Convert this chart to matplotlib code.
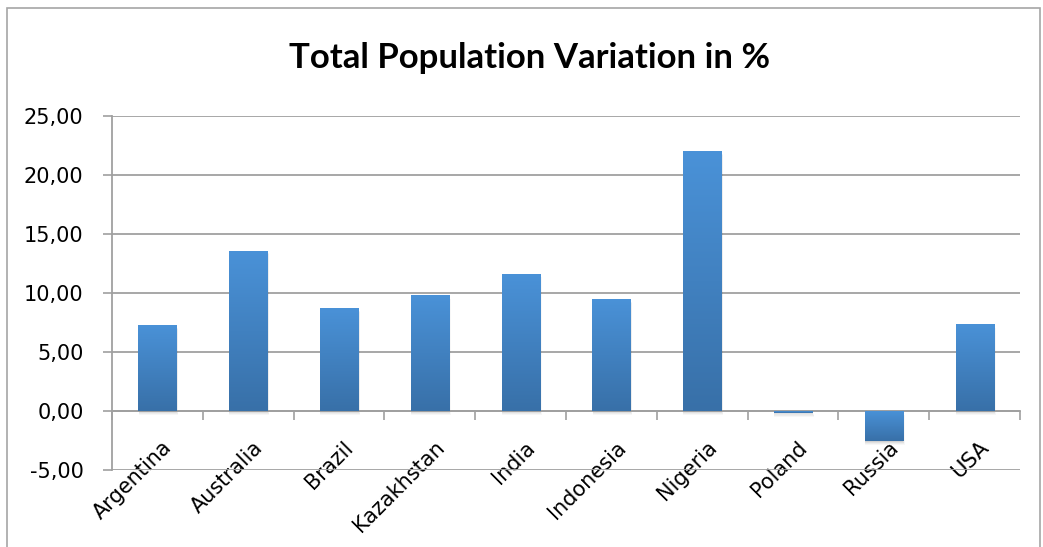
import matplotlib
matplotlib.use("Agg")
import matplotlib.pyplot as plt
import numpy as np
from matplotlib.colors import LinearSegmentedColormap
from matplotlib.patches import Rectangle
from matplotlib.ticker import FuncFormatter, FixedLocator
from matplotlib.transforms import ScaledTranslation

countries = ["Argentina", "Australia", "Brazil", "Kazakhstan", "India",
             "Indonesia", "Nigeria", "Poland", "Russia", "USA"]
variation = [7.30, 13.60, 8.75, 9.85, 11.65, 9.50, 22.00, -0.15, -2.58, 7.38]
y_ticks = [-5, 0, 5, 10, 15, 20, 25]

plt.rcParams["font.family"] = ["DejaVu Sans"]

W, H = 1043, 547
fig = plt.figure(figsize=(W / 100, H / 100), dpi=100)
fig.patch.set_facecolor("white")

# outer chart border
fig.patches.append(Rectangle((7 / W, -0.05), (1040 - 7) / W, (H - 8) / H + 0.05,
                             transform=fig.transFigure, fill=False,
                             edgecolor="#a6a6a6", linewidth=1.2))

left, right, top, bottom = 112, 1020, 116, 470
ax = fig.add_axes([left / W, 1 - bottom / H, (right - left) / W, (bottom - top) / H])

grid_col = "#a0a0a0"
bar_cmap = LinearSegmentedColormap.from_list("bar", ["#3870a8", "#4a92d8"])
width = 0.42
x = np.arange(len(countries))

for xi, v in zip(x, variation):
    lo, hi = min(0, v), max(0, v)
    # soft drop shadow
    for k, a in zip(range(4), [0.07, 0.05, 0.04, 0.03]):
        dx = 0.004 + 0.005 * k
        dy = 0.08 + 0.08 * k
        ax.add_patch(Rectangle((xi - width / 2 + 0.002, lo - dy), width + dx, hi - lo,
                               facecolor="black", alpha=a, edgecolor="none", zorder=2))
    bar = Rectangle((xi - width / 2, lo), width, hi - lo, facecolor="none",
                    edgecolor="none", zorder=3)
    ax.add_patch(bar)
    grad = np.linspace(0, 1, 256).reshape(-1, 1)
    im = ax.imshow(grad, cmap=bar_cmap, origin="lower", aspect="auto",
                   extent=(xi - width / 2, xi + width / 2, lo, hi), zorder=3)
    im.set_clip_path(bar)

ax.set_xlim(-0.5, len(countries) - 0.5)
ax.set_ylim(-5, 25)

# y axis
ax.set_yticks(y_ticks)
ax.yaxis.set_major_formatter(FuncFormatter(lambda v, p: f"{v:.2f}".replace(".", ",")))
ax.grid(axis="y", color=grid_col, linewidth=1.3, zorder=1)
ax.set_axisbelow(True)
ax.tick_params(axis="y", length=6.5, width=1.2, color=grid_col, pad=14,
               labelsize=15, labelcolor="black")

# x axis sits on the zero line; ticks mark category boundaries
ax.spines["bottom"].set_position(("data", 0))
ax.spines["bottom"].set_color(grid_col)
ax.spines["bottom"].set_linewidth(1.3)
ax.spines["left"].set_color(grid_col)
ax.spines["left"].set_linewidth(1.3)
ax.spines["top"].set_visible(False)
ax.spines["right"].set_visible(False)

ax.set_xticks(x)
ax.set_xticklabels(countries, rotation=45, ha="right", va="top",
                   rotation_mode="anchor", fontsize=15)
ax.xaxis.set_minor_locator(FixedLocator(np.arange(-0.5, len(countries), 1.0)))
ax.tick_params(axis="x", which="major", length=0, pad=19)
ax.tick_params(axis="x", which="minor", length=6.5, width=1.2, color=grid_col)
for lab in ax.get_xticklabels():
    lab.set_transform(lab.get_transform() + ScaledTranslation(3 / 72, 0, fig.dpi_scale_trans))

fig.text(530 / W, 1 - 58 / H, "Total Population Variation in %", ha="center",
         va="center", fontsize=25, fontweight="bold", family="Lato")

fig.savefig("out.png", dpi=100, facecolor="white")
